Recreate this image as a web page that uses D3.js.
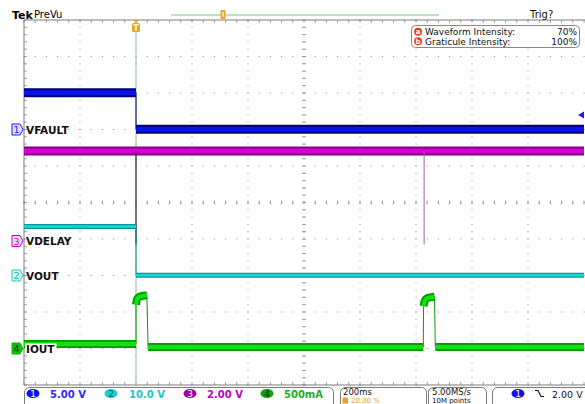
<!DOCTYPE html>
<html><head><meta charset="utf-8">
<script src="https://cdn.jsdelivr.net/npm/d3@7"></script>
<style>
html,body{margin:0;padding:0;background:#fff;}
svg{display:block;font-family:"DejaVu Sans",sans-serif;}
</style></head>
<body><svg id="c" width="585" height="404"></svg>
<script>
// ---------- data ----------
const timeDomain = [-0.4, 1.6];          // s (200 ms/div, trigger at 20 %)
const channelNames = ["VFAULT", "VOUT", "VDELAY", "IOUT"];
const channelScaleLabels = ["5.00 V", "10.0 V", "2.00 V", "500mA"];
const voltsPerDiv = [5, 10, 2, 0.5];
const channelPosDiv = [2, -2, -1, -4];   // ground position, divisions above centre
const ch1Pieces = [
  {t: [-0.4, 0.0], v: [5.05, 5.05]},
  {t: [0.0, 1.6], v: [0.05, 0.05]}
];
const ch2Pieces = [
  {t: [-0.4, 0.0], v: [13.4, 13.4]},
  {t: [0.0, 1.6], v: [0.1, 0.1]}
];
const ch3Pieces = [
  {t: [-0.4, 1.6], v: [4.82, 4.82]}
];
const ch3SpikeTimes = [0.0, 1.029];
const ch3SpikeMin = [-0.3, -0.3];
const ch4Pieces = [
  {t: [-0.4, 0.0], v: [0.06, 0.06]},
  {t: [0.0, 0.004, 0.012, 0.039], v: [0.6, 0.68, 0.71, 0.73]},
  {t: [0.043, 1.026], v: [0.02, 0.02]},
  {t: [1.027, 1.031, 1.039, 1.066], v: [0.58, 0.65, 0.69, 0.71]},
  {t: [1.069, 1.6], v: [0.02, 0.02]}
];
const triggerLevel = 2.0;  // V on ch1
const triggerPos = "20.00 %";
const timebase = "200ms";
const sampleRate = "5.00MS/s";
const recordLength = "10M points";
const waveIntensity = "70%";
const gratIntensity = "100%";

// ---------- layout ----------
const svg = d3.select("#c");
const L = 24, R = 584, T = 20, B = 385;
const x = d3.scaleLinear().domain(timeDomain).range([L, R]);
const yScales = voltsPerDiv.map((vpd, i) =>
  d3.scaleLinear().domain([(-5 - channelPosDiv[i]) * vpd, (5 - channelPosDiv[i]) * vpd]).range([B, T]));
const divX = (R - L) / 10, divY = (B - T) / 10;

// ---------- graticule ----------
const g = svg.append("g");
const gridCol = "#8c8c8c";
for (let i = 1; i < 10; i++) {
  const gx = L + i * divX;
  for (let j = 0; j <= 50; j++) {
    g.append("rect").attr("x", gx - 0.5).attr("y", T + j * divY / 5 - 0.5).attr("width", 1).attr("height", 1).attr("fill", gridCol);
  }
}
for (let j = 1; j < 10; j++) {
  const gy = T + j * divY;
  for (let i = 0; i <= 50; i++) {
    g.append("rect").attr("x", L + i * divX / 5 - 0.5).attr("y", gy - 0.5).attr("width", 1).attr("height", 1).attr("fill", gridCol);
  }
}
const cx = L + 5 * divX, cy = T + 5 * divY;
for (let i = 0; i <= 50; i++) {
  const tx = L + i * divX / 5;
  g.append("line").attr("x1", tx).attr("x2", tx).attr("y1", cy - 2).attr("y2", cy + 2).attr("stroke", gridCol).attr("stroke-width", 0.8);
  g.append("line").attr("x1", tx).attr("x2", tx).attr("y1", T).attr("y2", T + 3).attr("stroke", gridCol).attr("stroke-width", 0.8);
  g.append("line").attr("x1", tx).attr("x2", tx).attr("y1", B - 3).attr("y2", B).attr("stroke", gridCol).attr("stroke-width", 0.8);
}
for (let j = 0; j <= 50; j++) {
  const ty = T + j * divY / 5;
  g.append("line").attr("x1", cx - 2).attr("x2", cx + 2).attr("y1", ty).attr("y2", ty).attr("stroke", gridCol).attr("stroke-width", 0.8);
  g.append("line").attr("x1", L).attr("x2", L + 3).attr("y1", ty).attr("y2", ty).attr("stroke", gridCol).attr("stroke-width", 0.8);
}
g.append("line").attr("x1", L).attr("x2", R + 2).attr("y1", T).attr("y2", T).attr("stroke", "#7a7a7a");
g.append("line").attr("x1", L).attr("x2", R + 2).attr("y1", B).attr("y2", B).attr("stroke", "#7a7a7a");
g.append("line").attr("x1", L).attr("x2", L).attr("y1", T).attr("y2", B).attr("stroke", "#7a7a7a");

// trigger position line
svg.append("line").attr("x1", x(0)).attr("x2", x(0)).attr("y1", T).attr("y2", B)
  .attr("stroke", "#8fc88f").attr("stroke-width", 1);

// ---------- traces ----------
const styles = [
  {outer: "#00007a", inner: "#0a14e6", wo: 9, wi: 5},
  {outer: "#009a9a", inner: "#19d8d8", wo: 5, wi: 2.5},
  {outer: "#880088", inner: "#d200d2", wo: 9, wi: 5},
  {outer: "#00a000", inner: "#10e010", wo: 8, wi: 4}
];
const allPieces = [ch1Pieces, ch2Pieces, ch3Pieces, ch4Pieces];
const drawOrder = [2, 0, 1, 3];
drawOrder.forEach(ci => {
  const pieces = allPieces[ci], ys = yScales[ci], st = styles[ci];
  const line = d3.line().x(d => x(d[0])).y(d => ys(d[1])).curve(d3.curveMonotoneX);
  const tg = svg.append("g");
  for (let k = 0; k < pieces.length - 1; k++) {
    const a = pieces[k], b = pieces[k + 1];
    const ta = a.t[a.t.length - 1], tb = b.t[0];
    tg.append("path").attr("d", `M${x(ta)},${ys(a.v[a.v.length - 1])}L${x(tb)},${ys(b.v[0])}`)
      .attr("stroke", st.outer).attr("stroke-width", 1).attr("fill", "none");
  }
  pieces.forEach(p => {
    const pts = p.t.map((t, i) => [t, p.v[i]]);
    tg.append("path").attr("d", line(pts)).attr("fill", "none").attr("stroke", st.outer).attr("stroke-width", st.wo);
    tg.append("path").attr("d", line(pts)).attr("fill", "none").attr("stroke", st.inner).attr("stroke-width", st.wi);
  });
  if (ci === 2) {
    ch3SpikeTimes.forEach((t, i) => {
      tg.append("line").attr("x1", x(t)).attr("x2", x(t))
        .attr("y1", ys(4.82)).attr("y2", ys(ch3SpikeMin[i]))
        .attr("stroke", i === 0 ? "#300030" : "#a060a0").attr("stroke-width", 1);
    });
  }
});

// ---------- channel markers + labels ----------
const chCol = ["#1a1aff", "#19c8c8", "#c000c0", "#10b010"];
const chFill = ["#dde4ff", "#d8f6f6", "#f6d8f6", "#10c010"];
const chTxt = ["#1a1aff", "#19b0b0", "#c000c0", "#003300"];
[0, 1, 2, 3].forEach(ci => {
  const gy = yScales[ci](0) + (ci === 2 ? 2 : 0);
  const m = svg.append("g").attr("transform", `translate(12,${gy})`);
  m.append("path").attr("d", "M0,-5.5H8L11,0L8,5.5H0Z").attr("fill", chFill[ci]).attr("stroke", chCol[ci]).attr("stroke-width", 1);
  m.append("text").attr("x", 4.5).attr("y", 3.8).attr("text-anchor", "middle").attr("font-size", 9.5)
    .attr("fill", chTxt[ci]).text(ci + 1);
  const lbl = svg.append("g").attr("transform", `translate(25,${gy})`);
  const t = lbl.append("text").attr("x", 1).attr("y", 4).attr("font-size", 10.5).attr("font-weight", "bold")
    .attr("fill", "#111").text(channelNames[ci]);
  if (ci === 3) {
    const w = t.node().getComputedTextLength();
    lbl.insert("rect", "text").attr("x", 0).attr("y", -5).attr("width", w + 3).attr("height", 11).attr("fill", "#fff");
  }
});
const tly = yScales[0](triggerLevel);
svg.append("path").attr("d", `M${R - 6},${tly}L${R},${tly - 3.5}L${R},${tly + 3.5}Z`).attr("fill", "#1a1aff");

// ---------- top bar ----------
svg.append("text").attr("x", 12).attr("y", 19).attr("font-size", 11).attr("font-weight", "bold").attr("fill", "#000").text("Tek");
svg.append("text").attr("x", 34).attr("y", 18).attr("font-size", 10).attr("fill", "#000").text("PreVu");
svg.append("line").attr("x1", 171).attr("x2", 439).attr("y1", 15).attr("y2", 15).attr("stroke", "#7cc87c").attr("stroke-width", 1.2);
svg.append("rect").attr("x", 220.5).attr("y", 10).attr("width", 5).attr("height", 9).attr("rx", 1).attr("fill", "#f0a020");
svg.append("rect").attr("x", 222.5).attr("y", 12).attr("width", 1.2).attr("height", 5).attr("fill", "#fff");
svg.append("text").attr("x", 530).attr("y", 18).attr("font-size", 10).attr("fill", "#111").text("Trig?");
const tx0 = x(0);
svg.append("path").attr("d", `M${tx0 - 3},${T}L${tx0 + 3},${T}L${tx0},${T + 3}Z`).attr("fill", "#f0a020");
svg.append("rect").attr("x", tx0 - 4).attr("y", T + 3).attr("width", 8).attr("height", 9).attr("rx", 1.5).attr("fill", "#f0a020");
svg.append("text").attr("x", tx0).attr("y", T + 10.5).attr("text-anchor", "middle").attr("font-size", 8).attr("font-weight", "bold").attr("fill", "#fff").text("T");

// ---------- intensity box ----------
const ib = svg.append("g");
ib.append("rect").attr("x", 411.5).attr("y", 25.5).attr("width", 168).attr("height", 22).attr("rx", 4).attr("fill", "#fff").attr("stroke", "#8a8a8a");
[["a", "Waveform Intensity:", waveIntensity, 35], ["b", "Graticule Intensity:", gratIntensity, 44.5]].forEach(r => {
  ib.append("circle").attr("cx", 418).attr("cy", r[3] - 3.2).attr("r", 4).attr("fill", "#e84010");
  ib.append("text").attr("x", 418).attr("y", r[3] - 0.8).attr("text-anchor", "middle").attr("font-size", 7).attr("font-weight", "bold").attr("fill", "#fff").text(r[0]);
  ib.append("text").attr("x", 425).attr("y", r[3]).attr("font-size", 9).attr("fill", "#111").text(r[1]);
  ib.append("text").attr("x", 577).attr("y", r[3]).attr("text-anchor", "end").attr("font-size", 9).attr("fill", "#111").text(r[2]);
});

// ---------- bottom bar ----------
const bb = svg.append("g");
const boxY = 387.5;
[[24.5, 309], [340.5, 86], [428.5, 58], [492.5, 100]].forEach(b => {
  bb.append("rect").attr("x", b[0]).attr("y", boxY).attr("width", b[1]).attr("height", 30).attr("rx", 5).attr("fill", "#fff").attr("stroke", "#7a7a7a");
});
const badgeX = [33, 111, 190, 267];
const textX = [50, 129, 207, 284];
const badgeCol = ["#1010ee", "#19d0d0", "#a000a0", "#10a010"];
const badgeTxt = ["#fff", "#006060", "#fff", "#003000"];
const scaleTxtCol = ["#2a2aff", "#19c8c8", "#c000c0", "#20b020"];
channelScaleLabels.forEach((s, i) => {
  bb.append("ellipse").attr("cx", badgeX[i]).attr("cy", 393.5).attr("rx", 6.5).attr("ry", 4.5).attr("fill", badgeCol[i]);
  bb.append("text").attr("x", badgeX[i]).attr("y", 397).attr("text-anchor", "middle").attr("font-size", 9).attr("fill", badgeTxt[i]).text(i + 1);
  bb.append("text").attr("x", textX[i]).attr("y", 397.5).attr("font-size", 10).attr("font-weight", "bold").attr("fill", scaleTxtCol[i]).text(s);
});
bb.append("text").attr("x", 343).attr("y", 394.5).attr("font-size", 8.5).attr("fill", "#111").text(timebase);
bb.append("rect").attr("x", 342.5).attr("y", 397.5).attr("width", 5.5).attr("height", 6).attr("fill", "#f0a020");
bb.append("text").attr("x", 351).attr("y", 402.7).attr("font-size", 7).attr("fill", "#f0a020").text(triggerPos);
bb.append("text").attr("x", 432).attr("y", 394.5).attr("font-size", 8.5).attr("fill", "#111").text(sampleRate);
bb.append("text").attr("x", 432).attr("y", 402.7).attr("font-size", 7).attr("fill", "#111").text(recordLength);
bb.append("ellipse").attr("cx", 518).attr("cy", 393.5).attr("rx", 6.5).attr("ry", 4.5).attr("fill", "#1010ee");
bb.append("text").attr("x", 518).attr("y", 397).attr("text-anchor", "middle").attr("font-size", 9).attr("fill", "#fff").text("1");
bb.append("path").attr("d", "M535,390.5H538L541,396.5H544").attr("fill", "none").attr("stroke", "#111").attr("stroke-width", 1.2);
bb.append("text").attr("x", 552).attr("y", 397.5).attr("font-size", 9.5).attr("fill", "#111").text(triggerLevel.toFixed(2) + " V");
</script></body></html>
